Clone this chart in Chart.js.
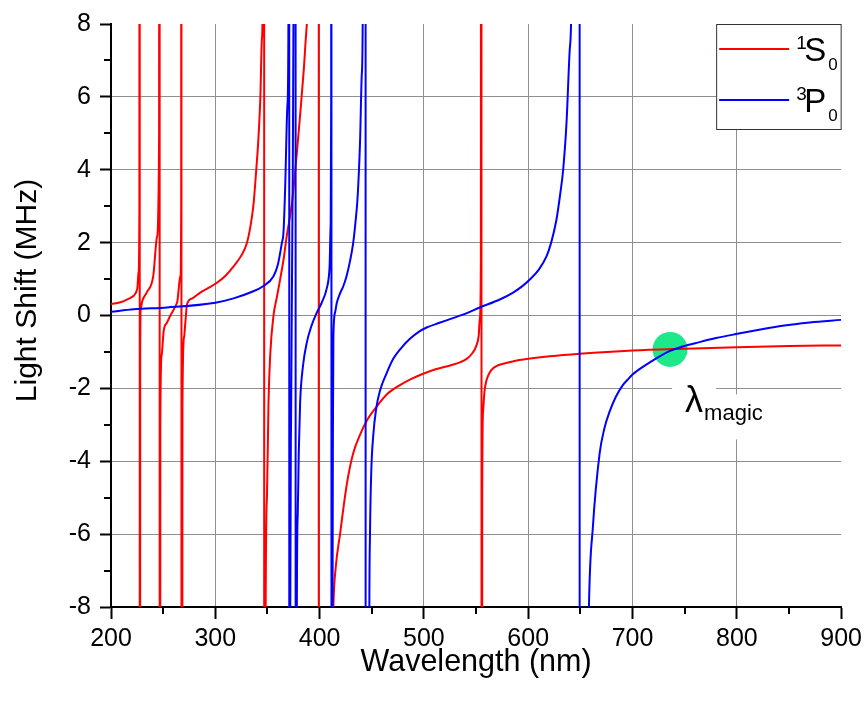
<!DOCTYPE html>
<html>
<head>
<meta charset="utf-8">
<script src="https://cdn.jsdelivr.net/npm/chart.js@4/dist/chart.umd.min.js"></script>
<style>
  html, body { margin: 0; padding: 0; background: #fff; }
  #wrap { width: 867px; height: 704px; }
</style>
</head>
<body>
<div id="wrap"><canvas id="c" width="867" height="704"></canvas></div>
<script>
// ---------- data ----------
// [wavelength nm, light shift MHz]; +-60 marks where a curve runs through a resonance
const s0Curve = [
  [200, 0.31], [210, 0.37], [215.5, 0.44], [221.8, 0.54], [225.1, 0.72], [226.5, 1.2], [227.2, 3], [227.5, 60],
  [227.6, -60], [228.0, -1], [228.6, 0.2], [230, 0.4], [234.2, 0.63], [240.5, 1.08], [244.2, 2.17], [246.1, 4.9], [246.6, 60],
  [246.7, -60], [247.3, -3], [248.5, -1.1], [250.5, -0.42], [253.8, -0.19], [256.9, 0], [263.3, 0.35], [266.5, 1.08], [267.3, 3], [267.5, 60],
  [267.6, -60], [268.5, -2.5], [270, -0.6], [271.3, -0.19], [272.9, 0.31], [278, 0.47], [285.6, 0.63], [293, 0.75], [301.6, 0.9],
  [310, 1.1], [317.5, 1.35], [325, 1.65], [330.3, 1.99], [334, 2.5], [336.7, 3.07], [339, 3.9], [341.4, 4.89], [343.2, 6.0],
  [344.7, 7.6], [345.3, 8.3], [346.8, 60],
  [346.9, -60], [348.3, -8], [349.5, -5], [351, -2.4], [352.6, -1.1], [355.8, 0], [359, 0.5], [362.2, 1.0], [365.5, 1.55],
  [368.6, 2.2], [373.4, 3.07], [378, 4.4], [381.3, 5.5], [384.7, 6.7], [387.8, 8], [392, 11], [399.1, 60],
  [399.3, -60], [406, -20], [413.2, -8], [415.5, -6.9], [419.6, -6.0], [426, -4.64], [432, -3.8], [438.8, -3.27], [446, -2.85],
  [454.7, -2.5], [465, -2.15], [477, -1.91], [488, -1.74], [499.3, -1.6], [512, -1.47], [525, -1.37], [535, -1.28], [541, -1.19],
  [546, -1.05], [550.4, -0.82], [552.5, -0.55], [553.6, -0.1], [554.6, 1.5], [555.1, 60],
  [555.3, -60], [555.9, -5], [556.7, -2.64], [558, -2.1], [560, -1.78], [563, -1.57], [566.3, -1.45], [570, -1.38], [575, -1.33],
  [585, -1.26], [600, -1.19], [620.6, -1.12], [649.3, -1.05], [700, -0.96], [750, -0.91], [800, -0.87], [850, -0.84], [900, -0.82]
];

const p0Curve = [
  [200, 0.1], [221.8, 0.17], [253.8, 0.22], [300, 0.35], [317.5, 0.47], [333.5, 0.63], [346.2, 0.81], [355.8, 1.08],
  [360, 1.4], [363.8, 1.99], [365.4, 2.3], [367, 3.53], [369.2, 5.8], [370.1, 8], [370.8, 60],
  [371.0, -60], [371.9, -8], [372.6, -3], [373.3, 0], [374.0, 3], [374.9, 8], [376.9, 60],
  [377.1, -60], [378.2, -8], [379, -5.5], [380, -3.8], [381.3, -2.4], [384, -1.4], [387.8, -0.73], [392, -0.3], [397.3, 0.08],
  [402, 0.35], [406.9, 0.75], [409.5, 1.3], [410.6, 2.5], [411.1, 6], [411.3, 60],
  [411.4, -60], [412.4, -8], [412.8, -3], [413.2, -0.6], [414.8, 0.08], [416.5, 0.35], [419.5, 0.6], [422.8, 0.81], [426, 1.1],
  [429.2, 1.5], [432, 1.95], [434, 2.45], [436.2, 3.15], [437.1, 3.6], [438.8, 4.8], [440.4, 6.6], [441.3, 8], [444.0, 60],
  [444.2, -60], [447.7, -8], [448.3, -6.0], [449.5, -4.3], [451.5, -3.27], [454, -2.6], [458, -2.05], [464, -1.6], [470.6, -1.19],
  [478, -0.9], [486.6, -0.64], [495, -0.45], [502.6, -0.33], [515, -0.2], [525, -0.1], [540, 0.05], [553.6, 0.22], [572.7, 0.44],
  [585.5, 0.63], [595, 0.82], [601.5, 0.99], [610, 1.25], [617.5, 1.62], [622, 2.0], [627, 2.62], [630.5, 3.3], [633.5, 4.0],
  [636.8, 5.34], [639.8, 7.3], [641.4, 8.6], [649.2, 60],
  [649.4, -60], [655, -15], [658.2, -8], [662, -5.8], [668.4, -3.8], [673, -3.1], [678, -2.64], [684, -2.23], [690.7, -1.91],
  [695, -1.77], [700, -1.62], [709.9, -1.41], [718, -1.26], [726, -1.12], [735.4, -0.98], [748, -0.85], [764.1, -0.73],
  [780, -0.62], [799.2, -0.51], [820, -0.4], [843.8, -0.28], [870, -0.19], [900, -0.12]
];

const magicPoint = [{ x: 736, y: -0.93 }];
const xTicks = [200, 300, 400, 500, 600, 700, 800, 900];
const yTicks = [-8, -6, -4, -2, 0, 2, 4, 6, 8];

const FONT = "'Liberation Sans', Arial, sans-serif";

// ---------- extras: minor ticks, y title, legend, label ----------
const extras = {
  id: 'extras',
  afterDraw(chart) {
    const { ctx, chartArea: a, scales: { x, y } } = chart;
    ctx.save();
    // minor ticks
    ctx.strokeStyle = '#000';
    ctx.lineWidth = 2;
    ctx.beginPath();
    for (let i = 0; i < xTicks.length - 1; i++) {
      const px = Math.round(x.getPixelForValue((xTicks[i] + xTicks[i + 1]) / 2));
      ctx.moveTo(px, a.bottom); ctx.lineTo(px, a.bottom + 7);
    }
    for (let i = 0; i < yTicks.length - 1; i++) {
      const py = Math.round(y.getPixelForValue((yTicks[i] + yTicks[i + 1]) / 2));
      ctx.moveTo(a.left, py); ctx.lineTo(a.left - 7, py);
    }
    ctx.stroke();

    // y axis title (sits a little above the axis centre, as in the original)
    ctx.save();
    ctx.translate(28, (a.top + a.bottom) / 2 - 25);
    ctx.rotate(-Math.PI / 2);
    ctx.fillStyle = '#000';
    ctx.font = '30px ' + FONT;
    ctx.textAlign = 'center';
    ctx.textBaseline = 'middle';
    ctx.fillText('Light Shift (MHz)', 0, 0);
    ctx.restore();

    // lambda_magic label with white backing
    const cx = x.getPixelForValue(magicPoint[0].x), cy = y.getPixelForValue(magicPoint[0].y);
    ctx.fillStyle = '#fff';
    ctx.fillRect(cx + 2, cy + 31, 44, 48);
    ctx.fillRect(cx + 46, cy + 45, 54, 45);
    ctx.fillStyle = '#000';
    ctx.textBaseline = 'alphabetic';
    ctx.font = '36px ' + FONT;
    ctx.fillText('λ', cx + 15, cy + 63);
    ctx.font = '22px ' + FONT;
    ctx.fillText('magic', cx + 34, cy + 71);

    // legend box
    const bx = a.right - 125, by = a.top;
    ctx.fillStyle = '#fff';
    ctx.fillRect(bx, by, 125, 105);
    ctx.strokeStyle = '#333';
    ctx.lineWidth = 1;
    ctx.strokeRect(bx + 0.5, by + 0.5, 124.5, 105);
    const rows = [
      { color: '#ff0000', sup: '1', main: 'S', sub: '0', y: by + 25 },
      { color: '#0000ff', sup: '3', main: 'P', sub: '0', y: by + 76 }
    ];
    rows.forEach(r => {
      ctx.strokeStyle = r.color;
      ctx.lineWidth = 2;
      ctx.beginPath();
      ctx.moveTo(bx + 3, r.y); ctx.lineTo(bx + 73, r.y);
      ctx.stroke();
      ctx.fillStyle = '#000';
      ctx.font = '19px ' + FONT;
      ctx.fillText(r.sup, bx + 80, r.y);
      ctx.font = '33px ' + FONT;
      ctx.fillText(r.main, bx + 88, r.y + 12);
      ctx.font = '17px ' + FONT;
      ctx.fillText(r.sub, bx + 112, r.y + 21);
    });
    ctx.restore();
  }
};

const gridColor = (edge) => (c) => (c.tick && c.tick.value === edge) ? 'rgba(0,0,0,0)' : '#8f8f8f';

const lineStyle = { showLine: true, borderWidth: 2, pointRadius: 0, cubicInterpolationMode: 'monotone', clip: 0 };

const ctx = document.getElementById('c').getContext('2d');
new Chart(ctx, {
  type: 'scatter',
  data: {
    datasets: [
      { ...lineStyle, label: '1S0', data: s0Curve.map(([x, y]) => ({ x, y })), borderColor: '#ff0000', order: 1 },
      { ...lineStyle, label: '3P0', data: p0Curve.map(([x, y]) => ({ x, y })), borderColor: '#0000ff', order: 0 },
      { label: 'magic', data: magicPoint, pointRadius: 17.5, backgroundColor: '#1de98b', borderWidth: 0, order: 5 }
    ]
  },
  options: {
    responsive: false,
    animation: false,
    layout: { padding: { top: 19, right: 25, left: 0, bottom: 0 } },
    plugins: { legend: { display: false }, tooltip: { enabled: false } },
    scales: {
      x: {
        type: 'linear', min: 200, max: 900,
        afterBuildTicks: s => { s.ticks = xTicks.map(v => ({ value: v })); },
        afterFit: s => { s.height = 97; },
        ticks: { color: '#000', font: { family: FONT, size: 25 }, padding: 5, maxRotation: 0 },
        grid: { color: gridColor(900), tickColor: '#000', tickLength: 12, tickWidth: 2, lineWidth: 1 },
        border: { color: '#000', width: 2 },
        title: { display: true, text: 'Wavelength (nm)', color: '#000', font: { family: FONT, size: 30.5 }, padding: { bottom: 23 } }
      },
      y: {
        type: 'linear', min: -8, max: 8,
        afterBuildTicks: s => { s.ticks = yTicks.map(v => ({ value: v })); },
        afterFit: s => { s.width = 111; },
        ticks: { color: '#000', font: { family: FONT, size: 25 }, padding: 9 },
        grid: { color: gridColor(8), tickColor: '#000', tickLength: 11, tickWidth: 2, lineWidth: 1 },
        border: { color: '#000', width: 2 },
        title: { display: false }
      }
    }
  },
  plugins: [extras]
});
</script>
</body>
</html>
